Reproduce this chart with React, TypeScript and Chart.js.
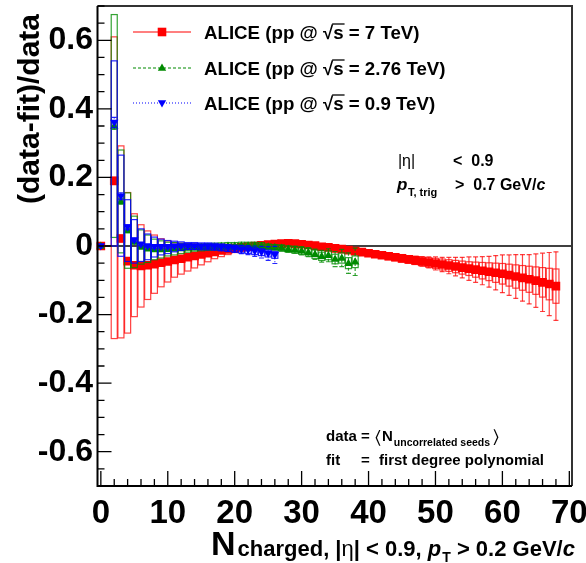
import { useEffect, useRef } from "react";
import { Chart, registerables } from "chart.js";

Chart.register(...registerables);

// ---------------- data ----------------
// pp @ 7 TeV
const nch7 = [0, 2, 3, 4, 5, 6, 7, 8, 9, 10, 11, 12, 13, 14, 15, 16, 17, 18, 19, 20, 21, 22, 23, 24, 25, 26, 27, 28, 29, 30, 31, 32, 33, 34, 35, 36, 37, 38, 39, 40, 41, 42, 43, 44, 45, 46, 47, 48, 49, 50, 51, 52, 53, 54, 55, 56, 57, 58, 59, 60, 61, 62, 63, 64, 65, 66, 67, 68];
const ratio7 = [0, 0.19, 0.022, -0.044, -0.056, -0.058, -0.056, -0.053, -0.049, -0.045, -0.041, -0.037, -0.033, -0.029, -0.025, -0.021, -0.017, -0.013, -0.010, -0.007, -0.004, -0.002, 0.000, 0.002, 0.004, 0.006, 0.007, 0.008, 0.007, 0.005, 0.003, 0.001, -0.002, -0.004, -0.007, -0.009, -0.012, -0.015, -0.018, -0.021, -0.024, -0.027, -0.030, -0.033, -0.036, -0.039, -0.042, -0.045, -0.048, -0.051, -0.054, -0.057, -0.060, -0.063, -0.066, -0.069, -0.072, -0.075, -0.078, -0.081, -0.085, -0.089, -0.093, -0.097, -0.101, -0.106, -0.111, -0.117];
const stat7 = [0.003, 0.01, 0.01, 0.006, 0.005, 0.004, 0.004, 0.004, 0.003, 0.003, 0.003, 0.003, 0.003, 0.003, 0.003, 0.003, 0.003, 0.003, 0.003, 0.003, 0.003, 0.003, 0.003, 0.003, 0.003, 0.003, 0.003, 0.003, 0.003, 0.003, 0.003, 0.003, 0.003, 0.003, 0.004, 0.004, 0.004, 0.004, 0.005, 0.005, 0.006, 0.006, 0.007, 0.008, 0.009, 0.010, 0.012, 0.014, 0.016, 0.019, 0.021, 0.024, 0.027, 0.030, 0.034, 0.037, 0.041, 0.045, 0.050, 0.055, 0.059, 0.064, 0.068, 0.072, 0.078, 0.085, 0.092, 0.100];
const sysUp7 = [0, 0.42, 0.27, 0.2, 0.15, 0.12, 0.1, 0.085, 0.07, 0.06, 0.05, 0.045, 0.04, 0.035, 0.03, 0.025, 0.02, 0.018, 0.015, 0.012, 0.01, 0.01, 0.009, 0.009, 0.008, 0.008, 0.008, 0.008, 0.008, 0.008, 0.008, 0.008, 0.008, 0.008, 0.008, 0.008, 0.008, 0.008, 0.008, 0.008, 0.009, 0.009, 0.01, 0.01, 0.011, 0.011, 0.012, 0.013, 0.014, 0.015, 0.016, 0.017, 0.018, 0.019, 0.02, 0.022, 0.024, 0.026, 0.028, 0.03, 0.032, 0.034, 0.036, 0.038, 0.04, 0.043, 0.046, 0.05];
const sysDown7 = [0, 0.46, 0.29, 0.21, 0.15, 0.12, 0.1, 0.085, 0.07, 0.06, 0.05, 0.045, 0.04, 0.035, 0.03, 0.025, 0.02, 0.018, 0.015, 0.012, 0.01, 0.01, 0.009, 0.009, 0.008, 0.008, 0.008, 0.008, 0.008, 0.008, 0.008, 0.008, 0.008, 0.008, 0.008, 0.008, 0.008, 0.008, 0.008, 0.008, 0.009, 0.009, 0.01, 0.01, 0.011, 0.011, 0.012, 0.013, 0.014, 0.015, 0.016, 0.017, 0.018, 0.019, 0.02, 0.022, 0.024, 0.026, 0.028, 0.03, 0.032, 0.034, 0.036, 0.038, 0.04, 0.043, 0.046, 0.05];

// pp @ 2.76 TeV
const nch276 = [0, 2, 3, 4, 5, 6, 7, 8, 9, 10, 11, 12, 13, 14, 15, 16, 17, 18, 19, 20, 21, 22, 23, 24, 25, 26, 27, 28, 29, 30, 31, 32, 33, 34, 35, 36, 37, 38];
const ratio276 = [0, 0.35, 0.13, 0.045, 0.012, -0.003, -0.008, -0.010, -0.010, -0.009, -0.008, -0.007, -0.006, -0.005, -0.004, -0.003, -0.002, -0.001, 0.000, 0.000, 0.001, 0.001, 0.001, 0.000, -0.002, -0.004, -0.006, -0.009, -0.011, -0.014, -0.018, -0.024, -0.030, -0.027, -0.038, -0.035, -0.050, -0.046];
const stat276 = [0.002, 0.01, 0.008, 0.006, 0.005, 0.003, 0.003, 0.003, 0.003, 0.003, 0.003, 0.003, 0.003, 0.003, 0.003, 0.003, 0.003, 0.003, 0.003, 0.003, 0.004, 0.004, 0.005, 0.005, 0.006, 0.007, 0.008, 0.009, 0.010, 0.012, 0.013, 0.015, 0.017, 0.019, 0.022, 0.025, 0.030, 0.040];
const sysUp276 = [0, 0.325, 0.15, 0.11, 0.075, 0.05, 0.04, 0.03, 0.025, 0.02, 0.018, 0.015, 0.012, 0.01, 0.01, 0.01, 0.01, 0.01, 0.01, 0.01, 0.01, 0.01, 0.01, 0.01, 0.008, 0.008, 0.009, 0.009, 0.01, 0.01, 0.011, 0.012, 0.012, 0.013, 0.014, 0.015, 0.016, 0.017];
const sysDown276 = [0, 0.325, 0.15, 0.11, 0.075, 0.05, 0.04, 0.03, 0.025, 0.02, 0.018, 0.015, 0.012, 0.01, 0.01, 0.01, 0.01, 0.01, 0.01, 0.01, 0.01, 0.01, 0.01, 0.01, 0.008, 0.008, 0.009, 0.009, 0.01, 0.01, 0.011, 0.012, 0.012, 0.013, 0.014, 0.015, 0.016, 0.017];

// pp @ 0.9 TeV
const nch09 = [0, 2, 3, 4, 5, 6, 7, 8, 9, 10, 11, 12, 13, 14, 15, 16, 17, 18, 19, 20, 21, 22, 23, 24, 25, 26];
const ratio09 = [0, 0.36, 0.145, 0.055, 0.017, 0.005, 0.0, -0.002, -0.002, -0.002, -0.001, 0.0, 0.0, 0.0, -0.001, -0.001, -0.002, -0.004, -0.006, -0.008, -0.010, -0.012, -0.015, -0.018, -0.022, -0.026];
const stat09 = [0.003, 0.015, 0.01, 0.007, 0.005, 0.004, 0.004, 0.004, 0.004, 0.004, 0.004, 0.004, 0.004, 0.004, 0.005, 0.006, 0.007, 0.008, 0.009, 0.010, 0.012, 0.013, 0.015, 0.017, 0.020, 0.025];
const sysUp09 = [0, 0.18, 0.12, 0.08, 0.06, 0.045, 0.035, 0.028, 0.022, 0.018, 0.015, 0.012, 0.01, 0.01, 0.01, 0.01, 0.01, 0.01, 0.01, 0.01, 0.01, 0.01, 0.01, 0.01, 0.01, 0.01];
const sysDown09 = [0, 0.36, 0.175, 0.1, 0.067, 0.05, 0.04, 0.03, 0.024, 0.02, 0.016, 0.013, 0.01, 0.01, 0.01, 0.01, 0.01, 0.01, 0.01, 0.01, 0.01, 0.01, 0.01, 0.01, 0.01, 0.01];

const legendEnergies = ["7 TeV", "2.76 TeV", "0.9 TeV"];
const xMajorTicks = [0, 10, 20, 30, 40, 50, 60, 70];
const yMajorTicks = [-0.6, -0.4, -0.2, 0, 0.2, 0.4, 0.6];

// ---------------- styles ----------------
const FONT = '"Liberation Sans", Arial, Helvetica, sans-serif';

type Series = {
  x: number[];
  y: number[];
  stat: number[];
  sysUp: number[];
  sysDown: number[];
  color: string;
  boxColor: string;
  dash: number[];
  marker: "square" | "triUp" | "triDown";
};

const SERIES: Series[] = [
  { x: nch7, y: ratio7, stat: stat7, sysUp: sysUp7, sysDown: sysDown7, color: "#ff0000", boxColor: "rgba(255,0,0,0.75)", dash: [], marker: "square" },
  { x: nch276, y: ratio276, stat: stat276, sysUp: sysUp276, sysDown: sysDown276, color: "#008a00", boxColor: "rgba(0,140,0,0.8)", dash: [3, 2], marker: "triUp" },
  { x: nch09, y: ratio09, stat: stat09, sysUp: sysUp09, sysDown: sysDown09, color: "#0000ff", boxColor: "rgba(0,0,255,0.85)", dash: [1, 2], marker: "triDown" },
];

function drawMarker(ctx: CanvasRenderingContext2D, kind: string, x: number, y: number, color: string) {
  ctx.save();
  ctx.fillStyle = color;
  ctx.beginPath();
  if (kind === "square") {
    ctx.rect(x - 4.3, y - 4.3, 8.6, 8.6);
  } else if (kind === "triUp") {
    ctx.moveTo(x, y - 4.5);
    ctx.lineTo(x + 4.2, y + 2.8);
    ctx.lineTo(x - 4.2, y + 2.8);
    ctx.closePath();
  } else {
    ctx.moveTo(x, y + 4.5);
    ctx.lineTo(x + 4.2, y - 2.8);
    ctx.lineTo(x - 4.2, y - 2.8);
    ctx.closePath();
  }
  ctx.fill();
  ctx.restore();
}

function text(ctx: CanvasRenderingContext2D, s: string, x: number, y: number, font: string, align: CanvasTextAlign = "left") {
  ctx.font = font;
  ctx.textAlign = align;
  ctx.textBaseline = "alphabetic";
  ctx.fillStyle = "#000";
  ctx.fillText(s, x, y);
  return ctx.measureText(s).width;
}

const rootPlugin = {
  id: "rootStyle",
  beforeDatasetsDraw(chart: any) {
    const { ctx, chartArea, scales } = chart;
    const y0 = scales.y.getPixelForValue(0);
    ctx.save();
    ctx.strokeStyle = "#000";
    ctx.lineWidth = 1.3;
    ctx.beginPath();
    ctx.moveTo(chartArea.left, y0);
    ctx.lineTo(chartArea.right, y0);
    ctx.stroke();
    ctx.restore();
  },
  beforeDatasetDraw(chart: any, args: any) {
    const s = SERIES[args.index];
    if (!s) return;
    const { ctx, chartArea, scales } = chart;
    const xs = scales.x;
    const ys = scales.y;
    ctx.save();
    ctx.beginPath();
    ctx.rect(chartArea.left, chartArea.top, chartArea.right - chartArea.left, chartArea.bottom - chartArea.top);
    ctx.clip();
    // systematic boxes
    ctx.strokeStyle = s.boxColor;
    ctx.lineWidth = 1.2;
    ctx.setLineDash([]);
    for (let i = 0; i < s.x.length; i++) {
      if (!s.sysUp[i] && !s.sysDown[i]) continue;
      const xl = xs.getPixelForValue(s.x[i] - 0.45);
      const xr = xs.getPixelForValue(s.x[i] + 0.45);
      const yt = ys.getPixelForValue(s.y[i] + s.sysUp[i]);
      const yb = ys.getPixelForValue(s.y[i] - s.sysDown[i]);
      ctx.strokeRect(xl, yt, xr - xl, yb - yt);
    }
    // statistical bars
    ctx.lineWidth = 1.2;
    for (let i = 0; i < s.x.length; i++) {
      const xp = xs.getPixelForValue(s.x[i]);
      const yt = ys.getPixelForValue(s.y[i] + s.stat[i]);
      const yb = ys.getPixelForValue(s.y[i] - s.stat[i]);
      ctx.setLineDash(s.dash);
      ctx.beginPath();
      ctx.moveTo(xp, yt);
      ctx.lineTo(xp, yb);
      ctx.stroke();
      ctx.setLineDash([]);
      ctx.beginPath();
      ctx.moveTo(xp - 2.5, yt);
      ctx.lineTo(xp + 2.5, yt);
      ctx.moveTo(xp - 2.5, yb);
      ctx.lineTo(xp + 2.5, yb);
      ctx.stroke();
    }
    ctx.restore();
  },
  afterDatasetDraw(chart: any, args: any) {
    const s = SERIES[args.index];
    if (!s) return;
    const { ctx, chartArea, scales } = chart;
    ctx.save();
    ctx.beginPath();
    ctx.rect(chartArea.left - 5, chartArea.top, chartArea.right - chartArea.left + 5, chartArea.bottom - chartArea.top);
    ctx.clip();
    for (let i = 0; i < s.x.length; i++) {
      drawMarker(ctx, s.marker, scales.x.getPixelForValue(s.x[i]), scales.y.getPixelForValue(s.y[i]), s.color);
    }
    ctx.restore();
  },
  afterDraw(chart: any) {
    const { ctx, chartArea, scales } = chart;
    const { left, right, top, bottom } = chartArea;
    const xs = scales.x;
    const ys = scales.y;
    ctx.save();
    // frame top/right
    ctx.strokeStyle = "#333";
    ctx.lineWidth = 2;
    ctx.beginPath();
    ctx.moveTo(left, top);
    ctx.lineTo(right, top);
    ctx.lineTo(right, bottom);
    ctx.stroke();
    // axes
    ctx.strokeStyle = "#000";
    ctx.beginPath();
    ctx.moveTo(left, top);
    ctx.lineTo(left, bottom);
    ctx.lineTo(right, bottom);
    ctx.stroke();
    // x ticks
    ctx.lineWidth = 1.3;
    ctx.beginPath();
    for (let v = 0; v <= 70; v += 2) {
      const p = xs.getPixelForValue(v);
      const len = v % 10 === 0 ? 15 : 7;
      ctx.moveTo(p, bottom);
      ctx.lineTo(p, bottom - len);
    }
    // y ticks
    for (let k = -14; k <= 14; k++) {
      const v = k * 0.05;
      const p = ys.getPixelForValue(v);
      const len = k % 4 === 0 ? 14 : 7;
      ctx.moveTo(left, p);
      ctx.lineTo(left + len, p);
    }
    ctx.stroke();

    // y title
    ctx.save();
    ctx.translate(39, 14);
    ctx.rotate(-Math.PI / 2);
    text(ctx, "(data-fit)/data", 0, 0, `bold 30px ${FONT}`, "right");
    ctx.restore();

    // x title
    let xx = 211;
    xx += text(ctx, "N", xx, 555, `bold 34px ${FONT}`);
    xx += 2;
    const subBase = 556;
    xx += text(ctx, "charged, |", xx, subBase, `bold 22px ${FONT}`);
    xx += text(ctx, "η", xx, subBase, `22px ${FONT}`);
    xx += text(ctx, "| < 0.9, ", xx, subBase, `bold 22px ${FONT}`);
    xx += text(ctx, "p", xx, subBase, `italic bold 22px ${FONT}`);
    xx += text(ctx, "T", xx + 1, subBase + 6, `bold 14px ${FONT}`) + 1;
    xx += text(ctx, " > 0.2 GeV/", xx, subBase, `bold 22px ${FONT}`);
    text(ctx, "c", xx, subBase, `italic bold 22px ${FONT}`);

    // legend
    const legY = [32, 68, 103];
    SERIES.forEach((s, i) => {
      const yc = legY[i];
      ctx.save();
      ctx.strokeStyle = s.color;
      ctx.lineWidth = 1.2;
      ctx.setLineDash(s.dash);
      ctx.beginPath();
      ctx.moveTo(133, yc);
      ctx.lineTo(191, yc);
      ctx.stroke();
      ctx.restore();
      drawMarker(ctx, s.marker, 162, yc, s.color);
      const base = yc + 6.5;
      const f = `bold 18.7px ${FONT}`;
      let lx = 204;
      lx += text(ctx, "ALICE (pp @ ", lx, base, f);
      const rw = text(ctx, "\u221A", lx, base, f);
      lx += rw;
      const sw = text(ctx, "s", lx, base, f);
      ctx.strokeStyle = "#000";
      ctx.lineWidth = 1.3;
      ctx.beginPath();
      ctx.moveTo(lx - 1, base - 14.5);
      ctx.lineTo(lx + sw + 1, base - 14.5);
      ctx.stroke();
      lx += sw;
      text(ctx, ` = ${legendEnergies[i]})`, lx, base, f);
    });

    // annotations (upper right)
    text(ctx, "|", 398, 166, `16px ${FONT}`);
    text(ctx, "η", 402, 166, `16px ${FONT}`);
    text(ctx, "|", 411, 166, `16px ${FONT}`);
    text(ctx, "<  0.9", 453, 166, `bold 16px ${FONT}`);
    text(ctx, "p", 397, 190, `italic bold 17px ${FONT}`);
    text(ctx, "T, trig", 408, 196, `bold 11px ${FONT}`);
    const gw = text(ctx, ">  0.7 GeV/", 455, 190, `bold 16px ${FONT}`);
    text(ctx, "c", 455 + gw, 190, `italic bold 16px ${FONT}`);

    // annotations (lower right)
    const fb = `bold 15px ${FONT}`;
    text(ctx, "data", 326, 441, fb);
    text(ctx, "=", 361, 441, fb);
    let dx = 375;
    dx += text(ctx, "\u2329", dx, 443, `18px ${FONT}`) + 1;
    dx += text(ctx, "N", dx, 441, fb);
    dx += text(ctx, "uncorrelated seeds", dx + 1, 446, `bold 10.5px ${FONT}`) + 4;
    text(ctx, "\u232A", dx, 443, `18px ${FONT}`);
    text(ctx, "fit", 326, 465, fb);
    text(ctx, "=", 361, 465, fb);
    text(ctx, "first degree polynomial", 544, 465, fb, "right");
    ctx.restore();
  },
};

export default function App() {
  const ref = useRef<HTMLCanvasElement>(null);
  useEffect(() => {
    const canvas = ref.current;
    if (!canvas) return;
    const chart = new Chart(canvas, {
      type: "scatter",
      data: {
        datasets: SERIES.map((s, i) => ({
          label: legendEnergies[i],
          data: s.x.map((x, k) => ({ x, y: s.y[k] })),
          pointRadius: 0,
          pointHoverRadius: 0,
          backgroundColor: s.color,
          borderColor: s.color,
          order: 3 - i,
        })),
      },
      options: {
        animation: false,
        responsive: false,
        devicePixelRatio: 1,
        events: [],
        layout: { padding: { left: 0, top: 6, right: 14, bottom: 0 } },
        plugins: { legend: { display: false }, tooltip: { enabled: false } },
        scales: {
          x: {
            type: "linear",
            min: -0.5,
            max: 70.4,
            grid: { display: false, drawTicks: false, tickLength: 0 },
            border: { display: false },
            afterBuildTicks: (s: any) => {
              s.ticks = xMajorTicks.map((v) => ({ value: v }));
            },
            afterFit: (s: any) => {
              s.height = 77;
              s.paddingLeft = 0;
              s.paddingRight = 0;
            },
            ticks: {
              autoSkip: false,
              maxRotation: 0,
              padding: 8,
              color: "#000",
              font: { family: FONT, size: 33, weight: "bold" },
              callback: (v: any) => String(v),
            },
          },
          y: {
            type: "linear",
            min: -0.7,
            max: 0.7,
            grid: { display: false, drawTicks: false, tickLength: 0 },
            border: { display: false },
            afterBuildTicks: (s: any) => {
              s.ticks = yMajorTicks.map((v) => ({ value: v }));
            },
            afterFit: (s: any) => {
              s.width = 97.5;
              s.paddingTop = 0;
              s.paddingBottom = 0;
            },
            ticks: {
              autoSkip: false,
              padding: 4.5,
              color: "#000",
              font: { family: FONT, size: 32, weight: "bold" },
              callback: (v: any) => (Math.abs(v) < 1e-9 ? "0" : Number(v).toFixed(1)),
            },
          },
        },
      },
      plugins: [rootPlugin],
    } as any);
    return () => chart.destroy();
  }, []);
  return (
    <div style={{ position: "fixed", left: 0, top: 0, width: 586, height: 563, background: "#fff" }}>
      <canvas ref={ref} width={586} height={563} style={{ display: "block" }} />
    </div>
  );
}
